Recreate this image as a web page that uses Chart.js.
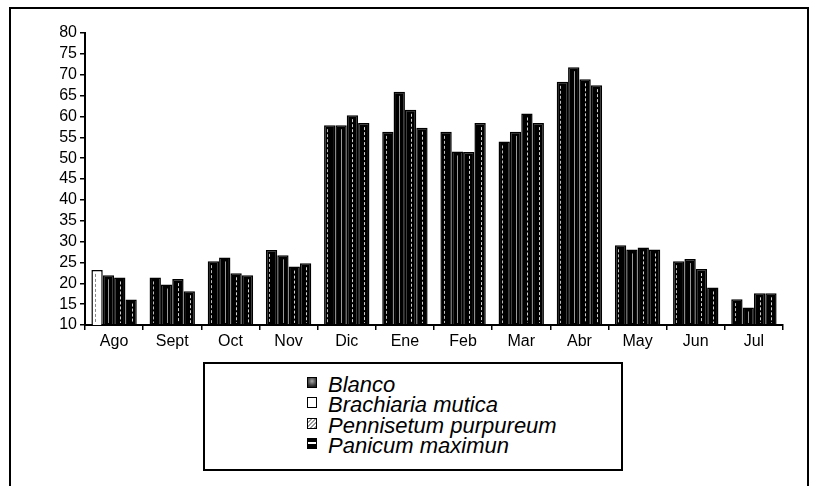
<!DOCTYPE html>
<html>
<head>
<meta charset="utf-8">
<script src="https://cdn.jsdelivr.net/npm/chart.js@4/dist/chart.umd.min.js"></script>
<style>
  html, body { margin: 0; padding: 0; background: #fff; }
  #wrap { position: relative; width: 817px; height: 486px; overflow: hidden; font-family: "Liberation Sans", Arial, sans-serif; }
  #frame { position: absolute; left: 9px; top: 7px; width: 800px; height: 500px; border: 2px solid #000; box-sizing: border-box; }
  #chart { position: absolute; left: 0; top: 0; }
  #legend { position: absolute; left: 203px; top: 362px; width: 420px; height: 109px; border: 2px solid #000; box-sizing: border-box; background: #fff; }
  .row { position: absolute; left: 102px; height: 20px; font-size: 22px; font-style: italic; color: #000; white-space: nowrap; }
  .ico { position: absolute; left: 0; top: 6px; width: 10px; height: 11px; box-sizing: border-box; border: 1px solid #000; }
  .row span.t { position: absolute; left: 21px; bottom: -5px; line-height: 22px; }
</style>
</head>
<body>
<div id="wrap">
  <div id="frame"></div>
  <canvas id="chart" width="817" height="486"></canvas>
  <div id="legend"></div>
</div>
<script>
// Months on the category axis
const months = ["Ago", "Sept", "Oct", "Nov", "Dic", "Ene", "Feb", "Mar", "Abr", "May", "Jun", "Jul"];

// Monthly values per treatment
const blanco      = [23.2, 21.4, 25.3, 28.0, 57.9, 56.3, 56.3, 54.0, 68.3, 29.1, 25.3, 16.2];
const brachiaria  = [21.9, 19.7, 26.2, 26.7, 57.9, 65.9, 51.6, 56.3, 71.8, 28.1, 25.8, 14.2];
const pennisetum  = [21.4, 21.0, 22.4, 24.0, 60.3, 61.6, 51.5, 60.7, 68.9, 28.6, 23.4, 17.6];
const panicum     = [16.1, 18.1, 21.9, 24.8, 58.4, 57.3, 58.4, 58.4, 67.5, 28.1, 19.0, 17.6];

// Series names and y-axis tick values
const seriesNames = ["Blanco", "Brachiaria mutica", "Pennisetum purpureum", "Panicum maximun"];
const yTicks = [10, 15, 20, 25, 30, 35, 40, 45, 50, 55, 60, 65, 70, 75, 80];

const FONT = "'Liberation Sans', Arial, sans-serif";

// Inner streak inside each bar: [relative x position, dash pattern, colour]
const streaks = [
  [0.3, [3, 2], "#bdbdbd"],
  [0.5, [], "#9a9a9a"],
  [0.5, [3, 2], "#d0d0d0"],
  [0.55, [3, 2], "#d0d0d0"]
];

const streakPlugin = {
  id: "streaks",
  afterDatasetsDraw(chart) {
    const ctx = chart.ctx;
    const bottom = chart.chartArea.bottom;
    chart.data.datasets.forEach((ds, di) => {
      const meta = chart.getDatasetMeta(di);
      const [rel, dash, col] = streaks[di];
      meta.data.forEach((bar, i) => {
        const p = bar.getProps(["x", "y", "base", "width"], true);
        const left = p.x - p.width / 2;
        const x = Math.round(left + p.width * rel) + 0.5;
        const yEnd = Math.min(p.base, bottom) - 2;
        ctx.save();
        ctx.beginPath();
        ctx.setLineDash(dash);
        ctx.strokeStyle = (di === 0 && i === 0) ? "#888" : col;
        ctx.lineWidth = 1;
        ctx.moveTo(x, p.y + 4);
        ctx.lineTo(x, yEnd);
        ctx.stroke();
        ctx.restore();
      });
    });
  }
};

const fills = [
  months.map((m, i) => i === 0 ? "#ffffff" : "#000000"),
  "#000000",
  "#000000",
  "#000000"
];

const chart = new Chart(document.getElementById("chart"), {
  type: "bar",
  data: {
    labels: months,
    datasets: [blanco, brachiaria, pennisetum, panicum].map((d, k) => ({
      label: seriesNames[k],
      data: d,
      backgroundColor: fills[k],
      borderColor: "#000",
      borderWidth: 1.5,
      categoryPercentage: 0.78,
      barPercentage: 1.0
    }))
  },
  options: {
    responsive: false,
    animation: false,
    events: [],
    layout: { padding: { left: 0, top: 33, right: 34, bottom: 0 } },
    plugins: { legend: { display: false }, tooltip: { enabled: false } },
    scales: {
      x: {
        afterFit: s => { s.height = 161; },
        grid: { display: true, drawOnChartArea: false, drawTicks: true, tickLength: 5, color: "#000", lineWidth: 1.5, offset: true },
        border: { display: true, color: "#000", width: 2 },
        ticks: { color: "#000", font: { family: FONT, size: 16 }, padding: 2 }
      },
      y: {
        min: 10,
        max: 80,
        afterFit: s => { s.width = 85; },
        afterBuildTicks: s => { s.ticks = yTicks.map(v => ({ value: v })); },
        grid: { display: true, drawOnChartArea: false, drawTicks: true, tickLength: 5, color: "#000", lineWidth: 1.5 },
        border: { display: true, color: "#000", width: 2 },
        ticks: { color: "#000", font: { family: FONT, size: 16 }, padding: 3, autoSkip: false }
      }
    }
  },
  plugins: [streakPlugin]
});

// Legend box built from the series names
const icons = [
  "background: radial-gradient(circle at 50% 35%, #aaa 0, #555 45%, #222 80%);",
  "background: #fff;",
  "background: repeating-linear-gradient(135deg, #fff 0 1.5px, #999 1.5px 3px);",
  "background: linear-gradient(#000 0 35%, #fff 35% 60%, #000 60% 100%);"
];
const leg = document.getElementById("legend");
seriesNames.forEach((name, k) => {
  const row = document.createElement("div");
  row.className = "row";
  row.style.top = (7 + k * 20.3) + "px";
  row.innerHTML = '<div class="ico" style="' + icons[k] + '"></div><span class="t">' + name + '</span>';
  leg.appendChild(row);
});
</script>
</body>
</html>
